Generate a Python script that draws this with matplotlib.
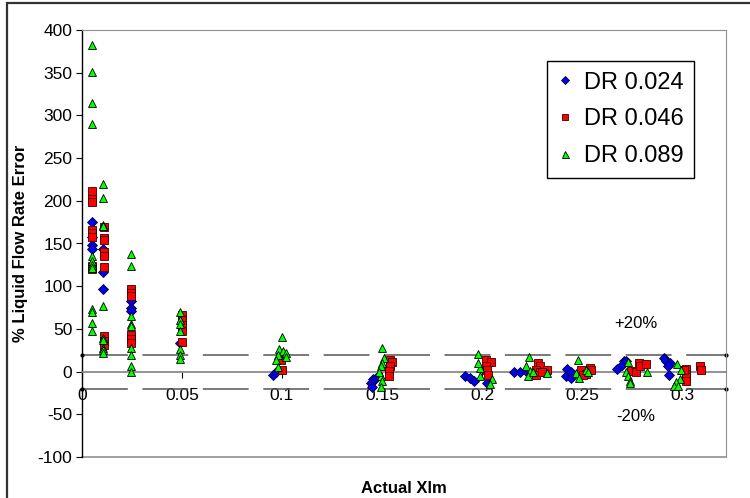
import matplotlib as mpl
mpl.use('Agg')
import matplotlib.pyplot as plt
from matplotlib.patches import Rectangle

plt.rcParams['font.family'] = ['Liberation Sans', 'DejaVu Sans']
plt.rcParams['lines.scale_dashes'] = False
plt.rcParams['axes.unicode_minus'] = False

# DR 0.024 (blue diamonds)
x024 = [0.005, 0.005, 0.005, 0.005,
        0.0105, 0.0105, 0.0105,
        0.0245, 0.0245, 0.0245,
        0.049,
        0.0957, 0.097,
        0.1454, 0.147, 0.1446, 0.145,
        0.1916, 0.194, 0.196, 0.2024,
        0.216, 0.219, 0.2218,
        0.2424, 0.2418, 0.2446, 0.2446,
        0.2676, 0.2708, 0.270, 0.272,
        0.291, 0.292, 0.294, 0.293, 0.2933]
y024 = [175, 158, 148, 143,
        143, 117, 97,
        83, 75, 71,
        34,
        -3.5, -1,
        -9, -8, -13, -18,
        -5.5, -8, -11, -13,
        0, 0, 1,
        3, -5.5, 0, -7.5,
        3, 12, 8, 12,
        16, 12, 10, 6, -3.5]

# DR 0.046 (red squares)
x046 = [0.005] * 8 + [0.011] * 9 + [0.0245] * 6 + [0.05] * 5 + \
       [0.0997, 0.100,
        0.154, 0.155, 0.154, 0.1537, 0.1537,
        0.202, 0.2046, 0.2018, 0.2024, 0.203,
        0.228, 0.2288, 0.2271, 0.2288, 0.2326, 0.227, 0.230,
        0.2496, 0.2538, 0.252, 0.2504, 0.2546,
        0.2746, 0.277, 0.2784, 0.2788, 0.2821,
        0.302, 0.302, 0.302, 0.3018, 0.301, 0.3088, 0.3096]
y046 = [212, 202, 199, 166, 162, 158, 124, 120,
        169, 157, 154, 140, 135, 123, 42, 36, 31,
        97, 92, 89, 43, 38, 33,
        66, 60, 55, 48, 35,
        14, 2,
        13, 11, 7, 1, -5,
        14, 11, 7, 2, -3.5,
        10, 6, 2, -1, 2, -3.5, -1,
        2, 4, -2.5, -3.5, 2,
        1, 0, 10, 6, 9,
        3, -2.5, -6.6, -11, 2, 7, 2]

# DR 0.089 (green triangles)
x089 = [0.005] * 12 + [0.0105] * 10 + [0.0245] * 9 + [0.049] * 7 + \
       [0.100, 0.0983, 0.1003, 0.102, 0.102, 0.098, 0.097, 0.098,
        0.150, 0.151, 0.150, 0.1496, 0.1496, 0.150, 0.1496, 0.1487,
        0.198, 0.1988, 0.199, 0.205, 0.204, 0.198,
        0.2234, 0.222, 0.224, 0.223, 0.2254, 0.2326,
        0.2479, 0.2468, 0.2484, 0.252, 0.253,
        0.2729, 0.272, 0.2729, 0.2738, 0.274, 0.2826,
        0.2974, 0.2996, 0.299, 0.297, 0.2958, 0.298]
y089 = [383, 351, 315, 290, 135, 129, 125, 121, 73, 70, 57, 47,
        220, 203, 172, 170, 77, 39, 37, 28, 25, 22,
        138, 124, 65, 56, 53, 28, 19, 7, -1,
        70, 61, 56, 47, 27, 20, 15,
        40, 27, 24, 22, 17.5, 20, 13, 5,
        28, 16, 10, 7, -5, -11, -18, 0,
        21, 4.5, -5, -8.6, -14, 10,
        17, 6, 1, -5.5, -1, -1.5,
        14, -1.5, -7.5, 2, 0,
        11, 0, -5.5, -11, -13, -1,
        9, 2, -9, -12.5, -16.4, -16.4]

band_x = [0, 0.322]
band = 20
yticks = [-100, -50, 0, 50, 100, 150, 200, 250, 300, 350, 400]
xticks = [0, 0.05, 0.1, 0.15, 0.2, 0.25, 0.3]
xticklabels = ['0', '0.05', '0.1', '0.15', '0.2', '0.25', '0.3']

fig = plt.figure(figsize=(7.5, 4.98), dpi=100)
ax = fig.add_axes([82 / 750, 1 - 457 / 498, 644 / 750, 427 / 498])

# +/-20% band lines and zero line
ax.plot(band_x, [band, band], color='#555555', lw=1.1,
        linestyle=(0, (33, 10.5)), marker='o', ms=2, mfc='k', mec='k',
        clip_on=False, zorder=2)
ax.plot(band_x, [-band, -band], color='#555555', lw=1.1,
        linestyle=(0, (33, 10.5)), marker='o', ms=2, mfc='k', mec='k',
        clip_on=False, zorder=2)
ax.axhline(-100, color='#909090', lw=1.2, clip_on=False, zorder=1)

ax.plot(x024, y024, 'D', ms=4.8, mfc='#0000ee', mec='#000033', mew=0.6,
        label='DR 0.024', zorder=3)
ax.plot(x046, y046, 's', ms=5.3, mfc='#ff0000', mec='#330000', mew=0.6,
        label='DR 0.046', zorder=4)
ax.plot(x089, y089, '^', ms=6.3, mfc='#00ff00', mec='#000000', mew=0.6,
        label='DR 0.089', zorder=5)

ax.set_xlim(0, 0.322)
ax.set_ylim(-100, 400)

ax.spines['bottom'].set_position(('data', 0))
ax.spines['bottom'].set_color('#808080')
ax.spines['bottom'].set_linewidth(1.2)
ax.spines['top'].set_color('#909090')
ax.spines['right'].set_color('#909090')
ax.spines['left'].set_color('black')
ax.spines['left'].set_linewidth(1.0)

ax.set_xticks(xticks)
ax.set_xticklabels(xticklabels)
ax.set_yticks(yticks)
ax.tick_params(axis='x', direction='out', length=4, color='black',
               labelsize=12.5, pad=8)
ax.tick_params(axis='y', direction='out', length=4, color='black',
               labelsize=12.5, pad=3)

ax.text(0.277, 56, '+20%', fontsize=12, ha='center', va='center')
ax.text(0.277, -53, '-20%', fontsize=12, ha='center', va='center')

fig.text(21 / 750, 1 - 243 / 498, '% Liquid Flow Rate Error', fontsize=12,
         fontweight='bold', rotation=90, ha='center', va='center')
fig.text(404 / 750, 1 - 488 / 498, 'Actual Xlm', fontsize=12,
         fontweight='bold', ha='center', va='center')

leg = ax.legend(loc='upper left', bbox_to_anchor=((547 - 82) / 644, (457 - 61) / 427),
                fontsize=17, frameon=True, fancybox=False, framealpha=1,
                edgecolor='black', handlelength=0.6, handletextpad=0.5,
                borderpad=0.45, labelspacing=0.62, borderaxespad=0,
                markerscale=0.8)
leg.get_frame().set_linewidth(1.0)

# outer chart frame
fig.patches.append(Rectangle((7 / 750, -0.1), 1.2, 1.1 - 3.5 / 498,
                             transform=fig.transFigure, fill=False,
                             edgecolor='#333333', lw=1.6))

fig.savefig('out.png', dpi=100)
